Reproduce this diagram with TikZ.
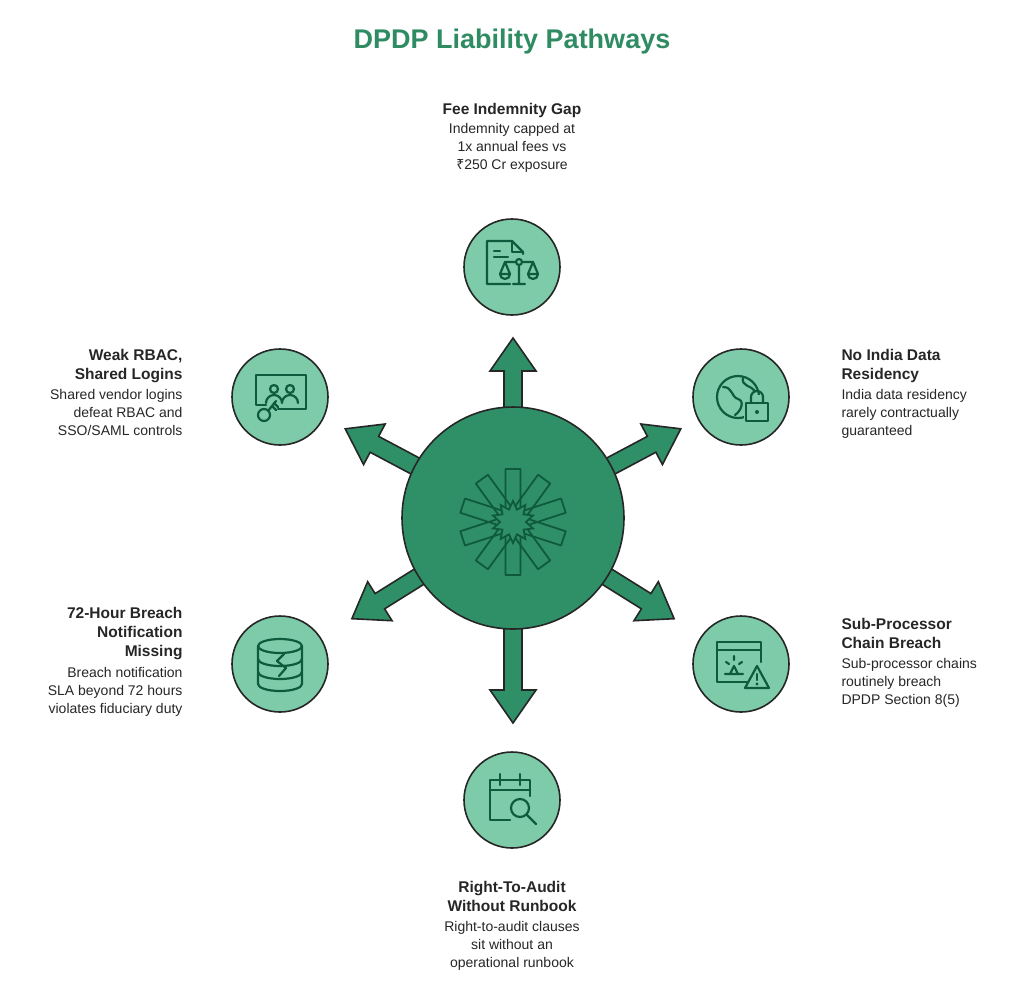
\documentclass[tikz,border=0pt]{standalone}
\usepackage{fontspec}
\setmainfont{Liberation Sans}
\newfontfamily\rupee{Noto Sans}
\begin{document}
\begin{tikzpicture}[x=1pt,y=-1pt,
  dk/.style={draw=black!85,line width=1.6pt},
  ic/.style={draw=icon,line width=2.2pt,line cap=round,line join=round},
  sm/.style={circle,draw=black!85,line width=1.6pt,fill=light,minimum size=96pt,inner sep=0pt},
  hd/.style={font=\fontsize{15.5}{19}\selectfont\bfseries,text=black!85},
  bd/.style={font=\fontsize{14}{18}\selectfont,text=black!85},
]
\definecolor{main}{HTML}{2F9068}
\definecolor{light}{HTML}{7DCBA8}
\definecolor{icon}{HTML}{0F5A3C}
\definecolor{tit}{HTML}{2E8B62}
\useasboundingbox (0,0) rectangle (1024,1002);
\node[font=\fontsize{27}{32}\selectfont\bfseries,text=tit] (title) at (512,42) {DPDP Liability Pathways};
% arrows
\foreach \a/\l in {90/180,28/190,152/190,-32/190,212/190,270/205}{
 \begin{scope}[shift={(513,518)},rotate=\a]
 \fill[main,draw=black!85,line width=1.6pt] (0,-9)--(\l-33,-9)--(\l-33,-23)--(\l,0)--(\l-33,23)--(\l-33,9)--(0,9)--cycle;
 \end{scope}}
\node[circle,fill=main,dk,minimum size=222pt] (c) at (513,518) {};
% center icon
\begin{scope}[shift={(513,522)}]
 \foreach \k in {90,126,...,414}{
   \draw[icon,line width=1.8pt,line join=round] ({\k-26.6}:16.8)--({\k-8.05}:53.5)--({\k+8.05}:53.5)--({\k+26.6}:16.8);}
 \draw[icon,fill=main,line width=1.8pt] (90:21) \foreach \k in {1,...,19}{ -- ({90+\k*18}:{mod(\k,2)==0 ? 21 : 13})} -- cycle;
\end{scope}
% small circles
\node[sm] (n1) at (512,267) {};
\node[sm] (n2) at (741,397) {};
\node[sm] (n3) at (741,664) {};
\node[sm] (n4) at (512,800) {};
\node[sm] (n5) at (280,664) {};
\node[sm] (n6) at (280,397) {};
% icon 1: doc + scales
\begin{scope}[shift={(512,267)}]
 \draw[ic] (-2,17)--(-25,17)--(-25,-26)--(0,-26)--(11,-15)--(11,-13);
 \draw[ic] (0,-26)--(0,-15)--(11,-15);
 \draw[ic] (-18,-16)--(-12,-16) (-18,-10)--(-4,-10);
 \draw[ic] (7,-5) circle (3) (7,-2)--(7,17) (1,17)--(13,17) (-7,-5)--(4,-5) (10,-5)--(21,-5);
 \draw[ic] (-7,-5)--(-12,7) (-7,-5)--(-2,7) (21,-5)--(16,7) (21,-5)--(26,7);
 \draw[ic] (-12,7) arc (180:0:5) -- cycle (16,7) arc (180:0:5)--cycle;
\end{scope}
% icon 2: globe + lock
\begin{scope}[shift={(741,397)}]
 \draw[ic] (-3,0) circle (21);
 \draw[ic] (-18,-10)..controls (-8,-10) and (-10,0)..(-3,2)..controls (4,4) and (0,14)..(-6,18);
 \draw[ic] (2,-20)..controls (0,-10) and (10,-12)..(14,-6);
 \fill[light] (3,-2) rectangle (29,27);
 \draw[ic] (5,6) rectangle (27,24);
 \draw[ic] (10,6)--(10,0) arc (180:360:6)--(22,6);
 \fill[icon] (16,15) circle (2);
\end{scope}
% icon 3: monitor + warning
\begin{scope}[shift={(741,664)}]
 \draw[ic] (6,18)--(-24,18)--(-24,-22)--(20,-22)--(20,-2);
 \draw[ic] (-24,-14)--(20,-14);
 \draw[ic] (-16,10)--(2,10) (-11,10)--(-7,2)--(-3,10);
 \draw[ic] (-7,-4)--(-7,-8) (-15,-2)--(-12,0) (1,-2)--(-2,0);
 \draw[ic] (16,2)--(28,24)--(4,24)--cycle;
 \draw[ic] (16,10)--(16,16); \fill[icon] (16,20) circle (1.6);
\end{scope}
% icon 4: calendar + magnifier
\begin{scope}[shift={(512,800)}]
 \draw[ic] (-2,20)--(-22,20)--(-22,-20)--(18,-20)--(18,-4);
 \draw[ic] (-22,-10)--(18,-10) (-12,-26)--(-12,-15) (8,-26)--(8,-15);
 \draw[ic] (8,8) circle (9) (14.5,14.5)--(24,24);
\end{scope}
% icon 5: database
\begin{scope}[shift={(280,664)}]
 \draw[ic] (0,-18) ellipse (22 and 7);
 \draw[ic] (-22,-18)--(-22,20) arc (180:0:22 and 7)--(22,-18);
 \draw[ic] (-22,-5) arc (180:0:22 and 7) (-22,8) arc (180:0:22 and 7);
 \draw[ic] (4,-10)--(-3,-3)--(6,4)--(-1,12);
\end{scope}
% icon 6: users + key
\begin{scope}[shift={(280,397)}]
 \draw[ic] (-14,8)--(-24,8)--(-24,-22)--(26,-22)--(26,12)--(-2,12);
 \draw[ic] (-6,-8) circle (4) (10,-8) circle (4);
 \draw[ic] (-14,6) arc (180:360:8) (2,6) arc (180:360:8);
 \draw[ic] (-16,18) circle (6) (-12,14)--(-4,4) (-8,9)--(-4,13) (-6,6)--(-2,10);
\end{scope}
% texts
\node[hd,anchor=north] (t1) at (512,100) {Fee Indemnity Gap};
\node[bd,anchor=north,align=center] (b1) at (512,120) {Indemnity capped at\\1x annual fees vs\\{\rupee ₹}250 Cr exposure};
\node[hd,anchor=north west,align=left] (t2) at (838,346) {No India Data\\Residency};
\node[bd,anchor=north west,align=left] (b2) at (838,386) {India data residency\\rarely contractually\\guaranteed};
\node[hd,anchor=north west,align=left] (t3) at (838,615) {Sub-Processor\\Chain Breach};
\node[bd,anchor=north west,align=left] (b3) at (838,655) {Sub-processor chains\\routinely breach\\DPDP Section 8(5)};
\node[hd,anchor=north,align=center] (t4) at (512,878) {Right-To-Audit\\Without Runbook};
\node[bd,anchor=north,align=center] (b4) at (512,918) {Right-to-audit clauses\\sit without an\\operational runbook};
\node[hd,anchor=north east,align=right] (t5) at (186,604) {72-Hour Breach\\Notification\\Missing};
\node[bd,anchor=north east,align=right] (b5) at (186,664) {Breach notification\\SLA beyond 72 hours\\violates fiduciary duty};
\node[hd,anchor=north east,align=right] (t6) at (186,346) {Weak RBAC,\\Shared Logins};
\node[bd,anchor=north east,align=right] (b6) at (186,386) {Shared vendor logins\\defeat RBAC and\\SSO/SAML controls};
\end{tikzpicture}
\end{document}
